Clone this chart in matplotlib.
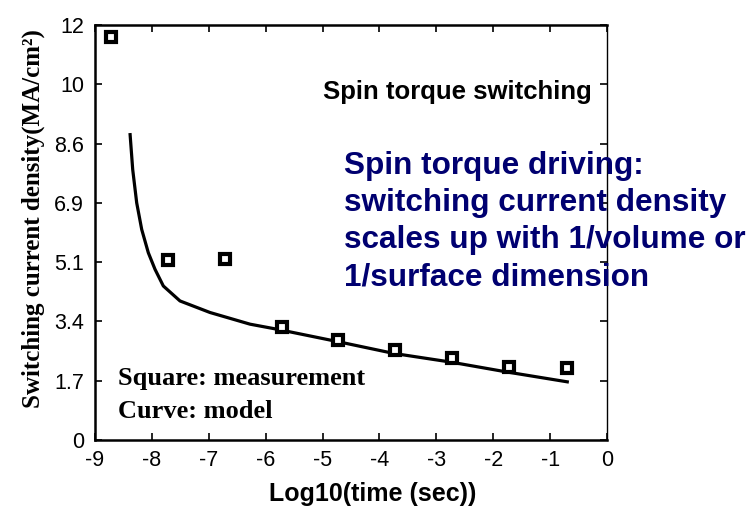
import matplotlib
matplotlib.use("Agg")
import matplotlib.pyplot as plt
import numpy as np

# measured points
meas_x = [-8.72, -7.72, -6.72, -5.72, -4.72, -3.72, -2.72, -1.72, -0.70]
meas_y = [11.65, 5.20, 5.22, 3.26, 2.88, 2.60, 2.37, 2.10, 2.08]

# model curve
model_x = [-8.385, -8.337, -8.267, -8.179, -8.063, -7.945, -7.799, -7.506, -6.979, -6.275,
           -5.80, -4.70, -3.75, -2.75, -1.75, -0.67]
model_y = [8.876, 7.817, 6.856, 6.087, 5.414, 4.933, 4.451, 4.018, 3.684, 3.346,
           3.20, 2.83, 2.50, 2.25, 1.96, 1.67]

x_ticks = [-9, -8, -7, -6, -5, -4, -3, -2, -1, 0]
y_tick_labels = ["0", "1.7", "3.4", "5.1", "6.9", "8.6", "10", "12"]

blue_lines = ["Spin torque driving:",
              "switching current density",
              "scales up with 1/volume or",
              "1/surface dimension"]

sans = "Liberation Sans"
serif = "Liberation Serif"

fig = plt.figure(figsize=(7.54, 5.12), dpi=100)
ax = fig.add_axes([0.126, 0.141, 0.679, 0.810])

ax.plot(model_x, model_y, color="black", lw=2.3, solid_capstyle="butt", solid_joinstyle="round")
ax.plot(meas_x, meas_y, ls="none", marker="s", ms=6.8, mfc="white", mec="black", mew=3.0)

ax.set_xlim(-9, 0)
ax.set_ylim(0, 12)
ax.set_xticks(x_ticks)
ax.set_xticklabels([str(v) for v in x_ticks], fontfamily=sans, fontsize=15.5)
yt = np.linspace(0, 12, len(y_tick_labels))
ax.set_yticks(yt)
ax.set_yticklabels(y_tick_labels, fontfamily=sans, fontsize=15.5)

ax.tick_params(axis="x", direction="in", top=True, length=5, width=1.2, pad=7)
ax.tick_params(axis="y", direction="in", right=True, length=5, width=1.2, pad=8)

for s in ["left", "bottom", "top"]:
    ax.spines[s].set_linewidth(1.8)
ax.spines["right"].set_linewidth(1.0)

ax.set_xlabel("Log10(time (sec))", fontfamily=sans, fontweight="bold", fontsize=18)
ax.xaxis.set_label_coords(0.543, -0.101)
ax.set_ylabel("Switching current density(MA/cm²)", fontfamily=serif, fontweight="bold", fontsize=18)
ax.yaxis.set_label_coords(-0.0977, 0.534)

ax.text(-5.0, 10.07, "Spin torque switching", fontfamily=sans, fontweight="bold", fontsize=18.5,
        ha="left", va="center")
y0 = 7.91
dy = 37 / 416 * 12
for i, line in enumerate(blue_lines):
    ax.text(-4.63, y0 - i * dy, line, fontfamily=sans, fontweight="bold", fontsize=22.7,
            color="#000070", ha="left", va="center", clip_on=False)
ax.text(-8.6, 1.78, "Square: measurement", fontfamily=serif, fontweight="bold", fontsize=19,
        ha="left", va="center")
ax.text(-8.6, 0.82, "Curve: model", fontfamily=serif, fontweight="bold", fontsize=19,
        ha="left", va="center")

fig.savefig("out.png", dpi=100)
